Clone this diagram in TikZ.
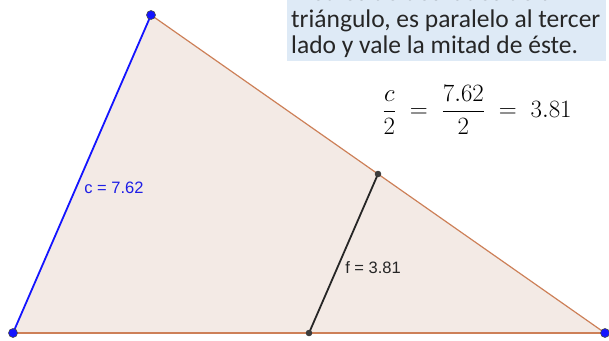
\documentclass[tikz,border=0pt]{standalone}
\usepackage{fontspec}
\usepackage{amsmath}
\setmainfont{Carlito}
\newfontfamily\arialfont{Liberation Sans}
\usetikzlibrary{calc}
\definecolor{trifill}{RGB}{243,234,229}
\definecolor{triedge}{RGB}{205,128,88}
\definecolor{gblue}{RGB}{20,20,255}
\definecolor{lblue}{RGB}{30,30,230}
\definecolor{boxblue}{RGB}{222,234,246}
\definecolor{ptgray}{RGB}{60,60,60}
\tikzset{
  bigpt/.style={circle,fill=gblue,draw=black!70,line width=0.6pt,inner sep=0pt,minimum size=9pt},
  midpt/.style={circle,fill=ptgray,draw=black!80,line width=0.4pt,inner sep=0pt,minimum size=6pt},
  boxtext/.style={anchor=base west,inner sep=0pt,font=\fontsize{25.5}{27}\selectfont,text=black!85},
  seglabel/.style={inner sep=0pt,font=\arialfont\fontsize{16.5}{18}\selectfont}
}
\begin{document}
\begin{tikzpicture}[x=1pt,y=-1pt]
\useasboundingbox (0,0) rectangle (609,340);
\clip (0,0) rectangle (609,340);
% text box
\fill[boxblue] (287,-5) rectangle (606,61);
\node[boxtext] (l1) at (291,1) {medios de dos lados de un};
\node[boxtext] (l2) at (291,27) {triángulo, es paralelo al tercer};
\node[boxtext] (l3) at (291,53) {lado y vale la mitad de éste.};
% points
\coordinate (A) at (13,333);
\coordinate (B) at (151,15);
\coordinate (C) at (605,333);
\coordinate (M) at ($(B)!0.5!(C)$);
\coordinate (N) at ($(A)!0.5!(C)$);
% triangle
\fill[trifill] (A) -- (B) -- (C) -- cycle;
\draw[triedge,line width=1.2pt] (B) -- (C);
\draw[triedge,line width=1.2pt] (A) -- (C);
\draw[gblue,line width=1.8pt] (A) -- (B);
\draw[black!85,line width=1.8pt] (M) -- (N);
% labels
\node[seglabel,text=lblue] (cl) at (114,188) {c = 7.62};
\node[seglabel,text=black!85] (fl) at (373,268) {f = 3.81};
% equation
\node[inner sep=0pt,font=\fontsize{25.5}{30}\selectfont] (eq) at (477,110) {$\dfrac{c}{2}\;=\;\dfrac{7.62}{2}\;=\;3.81$};
% dots
\node[bigpt] (pA) at (A) {};
\node[bigpt] (pB) at (B) {};
\node[bigpt] (pC) at (C) {};
\node[midpt] (pM) at (M) {};
\node[midpt] (pN) at (N) {};
\end{tikzpicture}
\end{document}
